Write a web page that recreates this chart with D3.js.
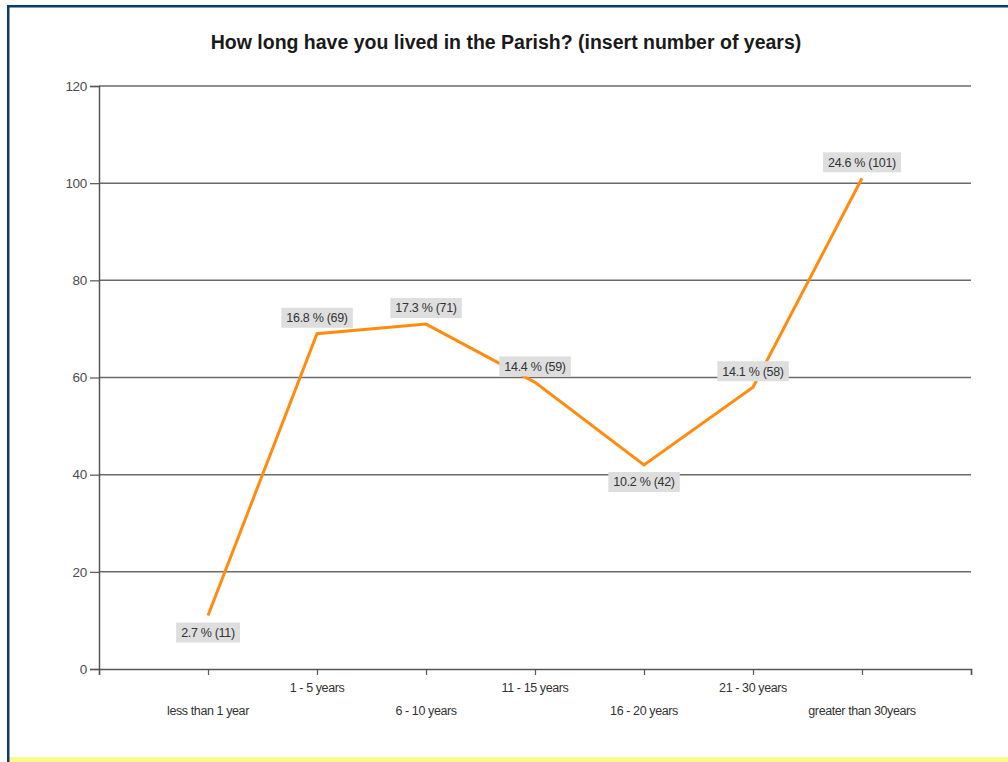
<!DOCTYPE html>
<html>
<head>
<meta charset="utf-8">
<script src="https://cdn.jsdelivr.net/npm/d3@7"></script>
<style>
  html, body { margin: 0; padding: 0; background: #fff; }
  svg { display: block; }
</style>
</head>
<body>
<svg id="chart" width="1008" height="762"></svg>
<script>
// Survey answers: how long respondents have lived in the Parish
const categories = ["less than 1 year", "1 - 5 years", "6 - 10 years", "11 - 15 years",
                    "16 - 20 years", "21 - 30 years", "greater than 30years"];
const counts = [11, 69, 71, 59, 42, 58, 101];
const percents = [2.7, 16.8, 17.3, 14.4, 10.2, 14.1, 24.6];
const labelBelow = [true, false, false, false, true, false, false];
const yTicks = [0, 20, 40, 60, 80, 100, 120];

const svg = d3.select("#chart");
const W = 1008, H = 762;
const m = { left: 99, right: 971, top: 86, bottom: 669 };

// Frame: dark blue edges and a pale yellow strip at the foot
svg.append("rect").attr("x", 9).attr("y", 757).attr("width", W - 9).attr("height", 5).attr("fill", "#fcf98f");
svg.append("rect").attr("x", 7).attr("y", 5).attr("width", W - 7).attr("height", 2.5).attr("fill", "#0d3c6b");
svg.append("rect").attr("x", 7).attr("y", 5).attr("width", 2.5).attr("height", H - 5).attr("fill", "#0d3c6b");

// Title
svg.append("text")
  .attr("x", 506).attr("y", 49)
  .attr("text-anchor", "middle")
  .attr("font-family", "Liberation Sans, Arial, sans-serif")
  .attr("font-weight", "bold")
  .attr("font-size", 19.5)
  .attr("fill", "#1a1a1a")
  .text("How long have you lived in the Parish? (insert number of years)");

// Scales: one slot per category plus an empty slot at each end
const x = d3.scaleLinear().domain([0, categories.length + 1]).range([m.left, m.right]);
const y = d3.scaleLinear().domain([0, 120]).range([m.bottom, m.top]);

// Horizontal grid lines
svg.append("g")
  .selectAll("line")
  .data(yTicks.filter(t => t > 0))
  .join("line")
  .attr("x1", m.left).attr("x2", m.right)
  .attr("y1", d => y(d)).attr("y2", d => y(d))
  .attr("stroke", "#6b6b6b").attr("stroke-width", 1.5);

// Y axis
const yAxis = svg.append("g")
  .attr("transform", `translate(${m.left},0)`)
  .call(d3.axisLeft(y).tickValues(yTicks).tickSize(9).tickPadding(3));
yAxis.select(".domain").attr("stroke", "#555").attr("stroke-width", 1.5);
yAxis.selectAll(".tick line").attr("stroke", "#555").attr("stroke-width", 1.2);
yAxis.selectAll(".tick text")
  .attr("font-family", "Liberation Sans, Arial, sans-serif")
  .attr("font-size", 13.5).attr("letter-spacing", "-0.3px").attr("fill", "#4d4d4d");

// X axis with ticks at every slot boundary
const xTickVals = d3.range(0, categories.length + 2);
const xAxis = svg.append("g")
  .attr("transform", `translate(0,${m.bottom})`)
  .call(d3.axisBottom(x).tickValues(xTickVals).tickSize(6).tickFormat(""));
xAxis.select(".domain").attr("stroke", "#555").attr("stroke-width", 1.5);
xAxis.selectAll(".tick line").attr("stroke", "#555").attr("stroke-width", 1.2);

// Category labels, staggered over two rows
svg.append("g")
  .selectAll("text")
  .data(categories)
  .join("text")
  .attr("x", (d, i) => x(i + 1))
  .attr("y", (d, i) => i % 2 === 1 ? 692 : 715)
  .attr("text-anchor", "middle")
  .attr("font-family", "Liberation Sans, Arial, sans-serif")
  .attr("font-size", 12.5)
  .attr("letter-spacing", "-0.4px")
  .attr("fill", "#333")
  .text(d => d);

// Data line
const line = d3.line()
  .x((d, i) => x(i + 1))
  .y(d => y(d));
svg.append("path")
  .datum(counts)
  .attr("d", line)
  .attr("fill", "none")
  .attr("stroke", "#ff8c0f")
  .attr("stroke-width", 3)
  .attr("stroke-linejoin", "miter");

// Value labels on grey boxes
const lbl = svg.append("g").selectAll("g")
  .data(counts)
  .join("g")
  .attr("transform", (d, i) => {
    const cy = labelBelow[i] ? y(d) + 17 : y(d) - 16;
    return `translate(${x(i + 1)},${cy})`;
  });
lbl.append("text")
  .attr("text-anchor", "middle")
  .attr("dy", "0.35em")
  .attr("font-family", "Liberation Sans, Arial, sans-serif")
  .attr("font-size", 12.5)
  .attr("letter-spacing", "-0.3px")
  .attr("fill", "#333")
  .text((d, i) => `${percents[i].toFixed(1)} % (${d})`);
lbl.each(function () {
  const g = d3.select(this);
  const bb = g.select("text").node().getBBox();
  g.insert("rect", "text")
    .attr("x", bb.x - 5).attr("y", -10)
    .attr("width", bb.width + 10).attr("height", 20)
    .attr("fill", "#dedede");
});
</script>
</body>
</html>
